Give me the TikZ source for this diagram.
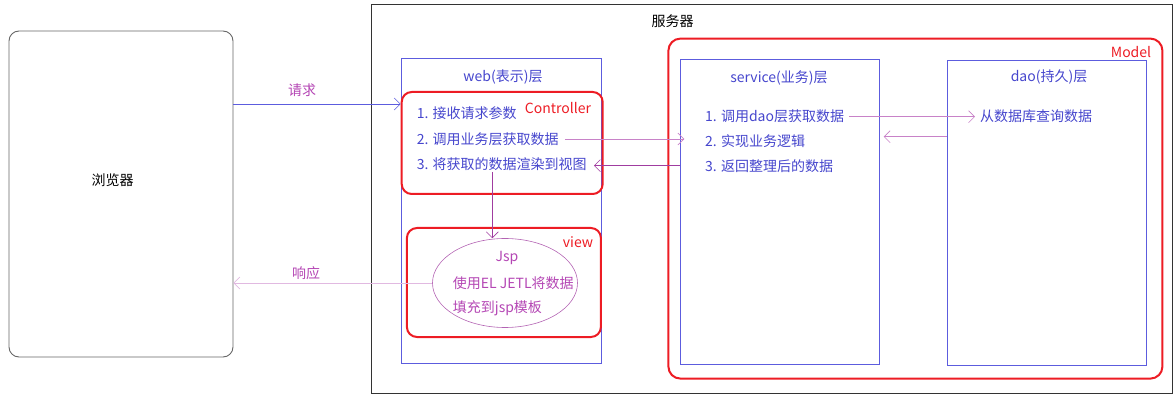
\documentclass[tikz,border=0pt]{standalone}
\usepackage{fontspec}
\setmainfont{Noto Sans CJK SC}
\usetikzlibrary{arrows.meta,shapes.geometric}

\definecolor{boxblue}{RGB}{92,92,222}
\definecolor{textblue}{RGB}{70,70,205}
\definecolor{mvcred}{RGB}{237,28,36}
\definecolor{labelpurple}{RGB}{180,70,180}
\definecolor{linkpurple}{RGB}{200,130,200}
\definecolor{darkpurple}{RGB}{160,60,160}
\definecolor{palepurple}{RGB}{225,185,225}

\tikzset{
  txt/.style={inner sep=0pt, font=\fontsize{14}{16}\selectfont},
  item/.style={txt, anchor=west, text=textblue},
  layerbox/.style={draw=boxblue, line width=0.8pt, inner sep=0pt},
  mvcbox/.style={draw=mvcred, line width=2pt, rounded corners=10pt, inner sep=0pt},
  mvclabel/.style={txt, text=mvcred},
  barb/.style={-{Straight Barb[length=6pt,width=12pt,line width=0.6pt]}},
}

\begin{document}
\begin{tikzpicture}[x=1pt,y=-1pt]
\useasboundingbox (0,0) rectangle (1175,403);

% browser
\node[draw=black!60, line width=0.9pt, rounded corners=10pt,
      minimum width=224pt, minimum height=326pt, inner sep=0pt] (browser) at (121,194) {};
\node[txt] (browserlbl) at (112.7,180) {浏览器};

% server frame
\node[draw=black!80, line width=0.9pt, minimum width=801pt, minimum height=389pt,
      inner sep=0pt] (server) at (771.8,198.7) {};
\node[txt] (serverlbl) at (672.7,20.7) {服务器};

% web layer
\node[layerbox, minimum width=200pt, minimum height=305pt] (web) at (501,210.5) {};
\node[txt, text=textblue] (webtitle) at (503,77) {web(表示)层};
\node[mvcbox, minimum width=201pt, minimum height=102pt] (ctrl) at (502.2,143) {};
\node[mvclabel] (ctrllbl) at (558,108) {Controller};
\node[item] (w1) at (416.7,113) {1. 接收请求参数};
\node[item] (w2) at (416.7,139) {2. 调用业务层获取数据};
\node[item] (w3) at (416.7,164) {3. 将获取的数据渲染到视图};

% view
\node[mvcbox, minimum width=194pt, minimum height=109pt] (view) at (503.9,282.5) {};
\node[mvclabel] (viewlbl) at (578,242) {view};
\node[draw=darkpurple!80, line width=0.6pt, ellipse, minimum width=145pt,
      minimum height=89pt, inner sep=0pt] (jsp) at (505,283) {};
\node[txt, text=labelpurple] (jsp1) at (507,258) {Jsp};
\node[txt, anchor=west, text=labelpurple] (jsp2) at (452.7,283) {使用EL JETL将数据};
\node[txt, anchor=west, text=labelpurple] (jsp3) at (452.7,308) {填充到jsp模板};

% model
\node[mvcbox, rounded corners=12pt, minimum width=494pt, minimum height=340pt] (model) at (915.4,208.6) {};
\node[mvclabel] (modellbl) at (1131,52) {Model};

% service layer
\node[layerbox, minimum width=198.6pt, minimum height=305pt] (svc) at (780,211.8) {};
\node[txt, text=textblue] (svctitle) at (779,77.7) {service(业务)层};
\node[item] (s1) at (705,116.7) {1. 调用dao层获取数据};
\node[item] (s2) at (705,141) {2. 实现业务逻辑};
\node[item] (s3) at (705,165.7) {3. 返回整理后的数据};

% dao layer
\node[layerbox, minimum width=199.4pt, minimum height=304.3pt] (dao) at (1047,212.9) {};
\node[txt, text=textblue] (daotitle) at (1049,77) {dao(持久)层};
\node[item] (d1) at (980,116) {从数据库查询数据};

% connector levels
\coordinate (reqy) at (0,104);
\coordinate (daoy) at (0,136.7);
\coordinate (ctrlx) at (492.3,172);

% request / response
\draw[barb, draw=boxblue, line width=0.8pt] (browser.east |- reqy) -- (web.west |- reqy);
\node[txt, text=labelpurple] (reqlbl) at (302,90) {请求};
\draw[barb, draw=palepurple, line width=0.9pt] (jsp.west) -- (browser.east |- jsp.west);
\node[txt, text=labelpurple] (resplbl) at (306,273) {响应};

% controller to view
\draw[barb, draw=darkpurple, line width=0.7pt] (ctrlx) -- (ctrlx |- jsp.north);

% web <-> service
\draw[barb, draw=linkpurple, line width=0.7pt] ([xshift=6pt]w2.east) -- ([xshift=4pt]svc.west |- w2.east);
\draw[barb, draw=darkpurple, line width=0.7pt] (svc.west |- s3.east) -- ([xshift=7pt]w3.east |- s3.east);

% service <-> dao
\draw[barb, draw=linkpurple, line width=0.7pt] ([xshift=5pt]s1.east) -- ([xshift=-5pt]d1.west |- s1.east);
\draw[barb, draw=linkpurple, line width=0.7pt] (dao.west |- daoy) -- ([xshift=4pt]svc.east |- daoy);
\end{tikzpicture}
\end{document}
